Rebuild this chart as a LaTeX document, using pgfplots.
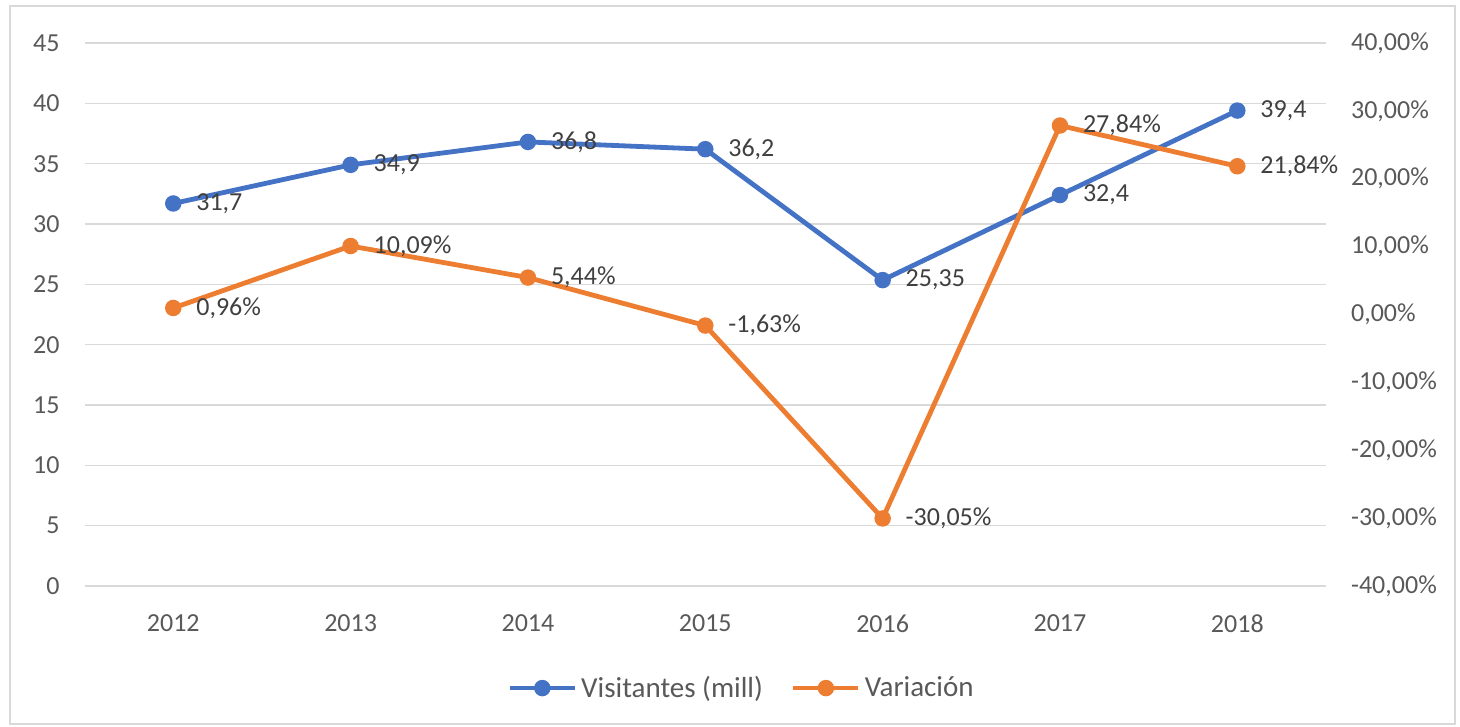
\documentclass[border=0pt]{standalone}
\usepackage{pgfplots}
\pgfplotsset{compat=1.18}
\usepackage{fontspec}
\setmainfont{Carlito}
\definecolor{vblue}{HTML}{4472C4}
\definecolor{vorange}{HTML}{ED7D31}
\definecolor{tgray}{HTML}{595959}
\definecolor{lgray}{HTML}{404040}
\definecolor{gridc}{HTML}{D9D9D9}

\pgfplotsset{
  common/.style={
    at={(0,0)}, anchor=south west,
    scale only axis, width=620.7pt, height=271.5pt,
    xmin=-0.5, xmax=6.5, clip=false,
    axis line style={draw=none},
    major tick length=0pt,
    tick label style={text=tgray},
    /pgf/number format/assume math mode=true,
    nodes near coords={\pgfplotspointmeta},
    point meta=explicit symbolic,
    nodes near coords style={anchor=west, xshift=7pt, text=lgray},
  },
  lineplot/.style={line width=2.4pt, mark=*, mark size=2.9pt, mark options={solid}},
}

\begin{document}
\begin{tikzpicture}[font=\fontsize{13}{15}\selectfont]
\path[use as bounding box] (-42.3pt,-70.5pt) rectangle (687.7pt,293pt);
\draw[gridc, line width=1pt] (-37.3pt,-69pt) rectangle (685.2pt,290pt);

\begin{axis}[common,
  ymin=0, ymax=45, ytick={0,5,...,45},
  xtick={0,...,6}, xticklabels={2012,2013,2014,2015,2016,2017,2018},
  ymajorgrids, grid style={gridc, line width=0.8pt},
  yticklabel style={xshift=-9pt},
  xticklabel style={yshift=-11pt},
  legend style={at={(0.53,-0.188)}, anchor=center, draw=none, fill=none,
    legend columns=2, text=tgray, font=\fontsize{14.5}{16}\selectfont,
    /tikz/every even column/.append style={column sep=12pt}},
  legend image code/.code={\draw[#1, mark repeat=2, mark phase=2]
    plot coordinates {(0pt,0pt) (16.25pt,0pt) (32.5pt,0pt)};},
]
\addplot[vblue, lineplot] coordinates {
  (0,31.7)[31,7] (1,34.9)[34,9] (2,36.8)[36,8] (3,36.2)[36,2]
  (4,25.35)[25,35] (5,32.4)[32,4] (6,39.4)[39,4]
};
\addlegendentry{Visitantes (mill)}
\addlegendimage{vorange, lineplot}
\addlegendentry{Variación}
\end{axis}

\begin{axis}[common,
  ymin=-40, ymax=40, ytick={-40,-30,...,40},
  axis y line*=right, axis x line=none,
  yticklabel={\pgfmathprintnumber[fixed,fixed zerofill,precision=2,use comma]{\tick}\%},
  yticklabel style={xshift=9pt},
]
\addplot[vorange, lineplot] coordinates {
  (0,0.96)[0,96\%] (1,10.09)[10,09\%] (2,5.44)[5,44\%] (3,-1.63)[-1,63\%]
  (4,-30.05)[-30,05\%] (5,27.84)[27,84\%] (6,21.84)[21,84\%]
};
\end{axis}
\end{tikzpicture}
\end{document}
